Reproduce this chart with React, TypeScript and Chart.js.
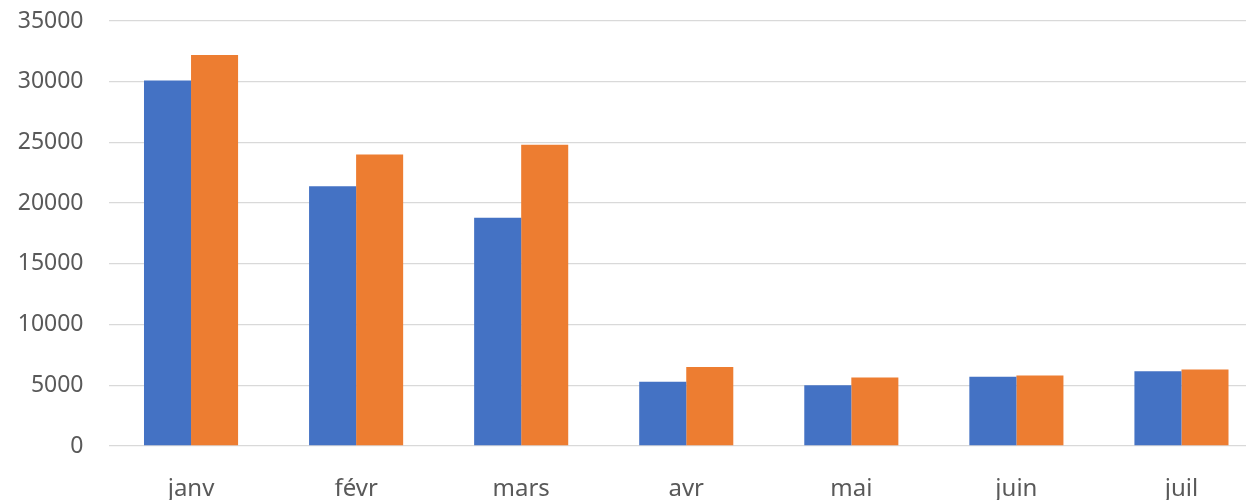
import React, { useEffect, useRef } from "react";
import { Chart, registerables } from "chart.js";

Chart.register(...registerables);

const categories = ["janv", "févr", "mars", "avr", "mai", "juin", "juil"];
const seriesBlue = [30100, 21400, 18800, 5300, 5000, 5700, 6150];
const seriesOrange = [32200, 24000, 24800, 6500, 5650, 5800, 6300];
const yTicks = { min: 0, max: 35000, step: 5000 };

export default function App() {
  const ref = useRef<HTMLCanvasElement | null>(null);
  useEffect(() => {
    if (!ref.current) return;
    const font = { family: "'Noto Sans', sans-serif", size: 23 };
    const xFont = { family: "'Noto Sans', sans-serif", size: 24 };
    const chart = new Chart(ref.current, {
      type: "bar",
      data: {
        labels: categories,
        datasets: [
          { label: "Série 1", data: seriesBlue, backgroundColor: "#4472C4", categoryPercentage: 0.57, barPercentage: 1 },
          { label: "Série 2", data: seriesOrange, backgroundColor: "#ED7D31", categoryPercentage: 0.57, barPercentage: 1 },
        ],
      },
      options: {
        responsive: false,
        animation: false,
        layout: { padding: { top: 21, right: 0, left: 0, bottom: 0 } },
        plugins: { legend: { display: false }, tooltip: { enabled: false } },
        scales: {
          x: {
            grid: { display: false },
            border: { display: false },
            ticks: { color: "#595959", font: xFont, padding: 21, maxRotation: 0 },
            afterFit: (s: any) => { s.height = 54; },
          },
          y: {
            min: yTicks.min,
            max: yTicks.max,
            grid: { color: "#D9D9D9", lineWidth: 1.3, drawTicks: false },
            border: { display: false },
            ticks: {
              stepSize: yTicks.step,
              color: "#595959",
              font,
              padding: 25,
              callback: (v: any) => String(v),
            },
            afterFit: (s: any) => {
              s.width = 108.5;
              s.paddingTop = 0;
              s.paddingBottom = 0;
            },
          },
        },
      },
    });
    return () => chart.destroy();
  }, []);
  return (
    <div style={{ position: "fixed", left: 0, top: 0, width: 1246, height: 500, overflow: "hidden", background: "#fff" }}>
      <canvas ref={ref} width={1264} height={500} style={{ display: "block" }} />
    </div>
  );
}
